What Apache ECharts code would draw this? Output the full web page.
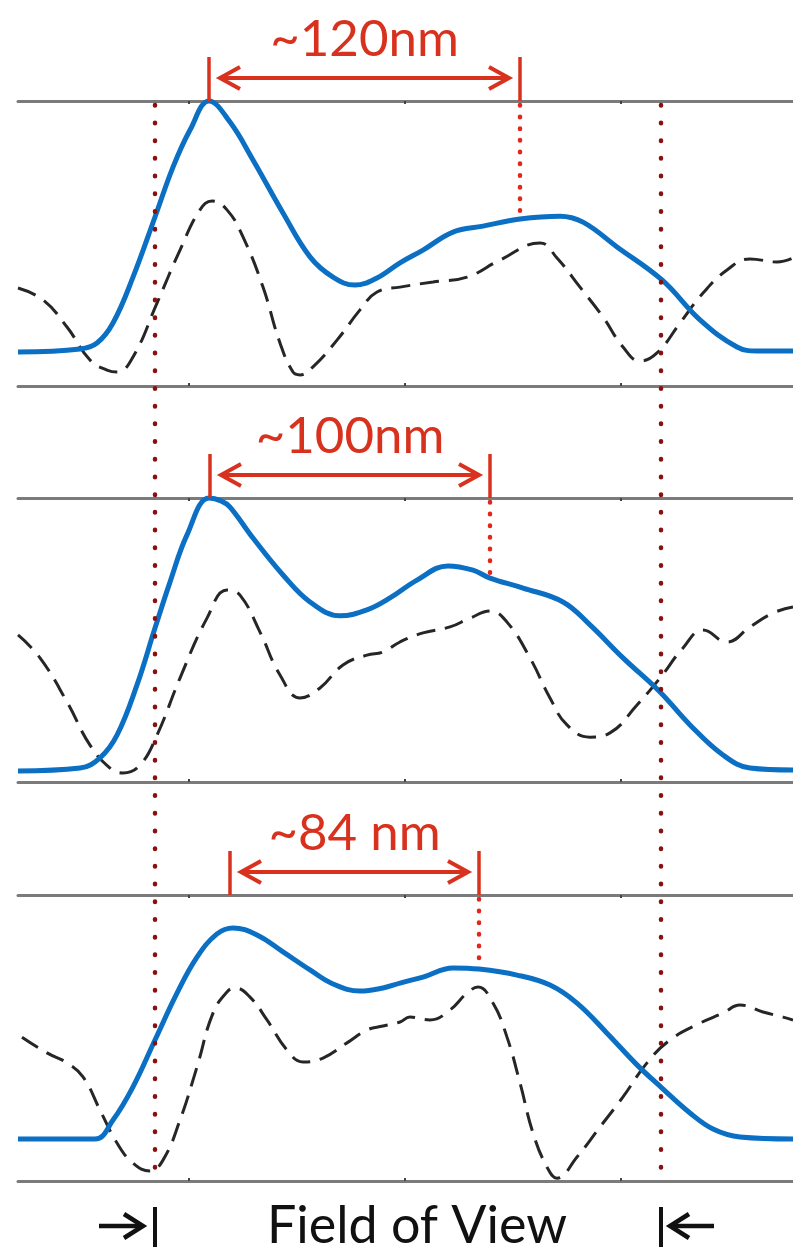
<!DOCTYPE html>
<html>
<head>
<meta charset="utf-8">
<script src="https://cdn.jsdelivr.net/npm/echarts@6/dist/echarts.min.js"></script>
<style>
  html, body { margin: 0; padding: 0; background: #ffffff; }
  #chart { width: 793px; height: 1252px; }
</style>
</head>
<body>
<div id="chart"></div>
<script>
// Scan position (0 = left end of every trace) and intensity normalised to the upper rule.
const tickPositions = [171, 387, 603];
const fieldOfView = [137, 643];

// Upper panel
const solidA = [[0,0.119],[62,0.130],[79,0.151],[95,0.221],[115,0.382],[137,0.593],[155,0.768],[172,0.898],[191,1.0],[212,0.926],[235,0.793],[265,0.607],[292,0.453],[315,0.382],[337,0.354],[359,0.379],[382,0.432],[405,0.477],[435,0.540],[465,0.561],[502,0.586],[542,0.596],[565,0.575],[599,0.488],[644,0.372],[682,0.232],[719,0.137],[739,0.123],[775,0.123]];
const dashedA = [[0,0.344],[25,0.302],[49,0.207],[72,0.091],[89,0.056],[99,0.049],[115,0.102],[139,0.291],[162,0.477],[182,0.618],[194,0.649],[209,0.618],[225,0.523],[245,0.347],[262,0.151],[275,0.049],[282,0.039],[295,0.067],[319,0.161],[342,0.267],[359,0.330],[382,0.347],[415,0.365],[449,0.382],[482,0.442],[522,0.502],[539,0.449],[562,0.347],[585,0.242],[605,0.137],[622,0.088],[639,0.116],[662,0.221],[685,0.326],[709,0.407],[732,0.446],[759,0.435],[775,0.449]];

// Middle panel
const solidB = [[0,0.039],[62,0.049],[82,0.085],[99,0.165],[119,0.342],[137,0.542],[152,0.704],[169,0.870],[191,1.0],[203,0.99],[212,0.968],[235,0.859],[265,0.729],[292,0.634],[322,0.585],[349,0.606],[372,0.648],[399,0.711],[430,0.761],[455,0.746],[472,0.718],[505,0.683],[545,0.634],[572,0.553],[605,0.437],[642,0.317],[672,0.201],[705,0.095],[732,0.049],[775,0.042]];
const dashedB = [[0,0.518],[22,0.437],[49,0.282],[72,0.130],[92,0.049],[105,0.032],[122,0.060],[139,0.165],[162,0.366],[189,0.577],[209,0.676],[222,0.658],[242,0.528],[262,0.377],[282,0.296],[302,0.331],[325,0.412],[349,0.447],[365,0.458],[382,0.493],[405,0.525],[432,0.546],[452,0.577],[472,0.602],[489,0.563],[512,0.437],[532,0.296],[549,0.201],[572,0.158],[592,0.173],[619,0.271],[642,0.366],[665,0.472],[685,0.535],[709,0.493],[732,0.546],[755,0.595],[775,0.616]];

// Lower panel
const solidC = [[0,0.147],[77,0.147],[95,0.213],[115,0.329],[137,0.493],[159,0.657],[179,0.783],[199,0.864],[215,0.885],[239,0.860],[265,0.801],[292,0.738],[315,0.689],[342,0.664],[365,0.675],[382,0.692],[405,0.713],[435,0.745],[461,0.741],[499,0.720],[532,0.685],[559,0.622],[589,0.517],[619,0.406],[644,0.325],[672,0.238],[695,0.182],[722,0.154],[775,0.147]];
const dashedC = [[4,0.503],[29,0.448],[49,0.413],[65,0.364],[82,0.248],[99,0.133],[115,0.063],[132,0.035],[145,0.073],[162,0.213],[179,0.399],[195,0.587],[209,0.661],[217,0.675],[232,0.643],[249,0.563],[269,0.458],[285,0.416],[305,0.430],[329,0.483],[349,0.528],[365,0.542],[382,0.556],[392,0.573],[412,0.563],[432,0.598],[449,0.657],[460,0.678],[475,0.622],[489,0.503],[502,0.343],[515,0.168],[529,0.049],[539,0.010],[559,0.084],[582,0.189],[605,0.294],[629,0.413],[652,0.493],[682,0.552],[705,0.587],[722,0.615],[745,0.591],[765,0.573],[775,0.563]];

// Peak-to-peak spacing markers
const spanStarts = [191, 192, 212];
const spanEnds = [502, 472, 461];
const spanLabels = ['~120nm', '~100nm', '~84 nm'];

const solids = [solidA, solidB, solidC];
const dashes = [dashedA, dashedB, dashedC];

const RED = '#d8321e';
const DOT_RED = '#e3261b';
const MAROON = '#8a0f0f';
const BLUE = '#0b6fc4';
const RULE = '#7b7b7b';
const FONT = 'Lato, "Open Sans", sans-serif';

const panels = [
  { top: 101, height: 285 },
  { top: 498, height: 284 },
  { top: 895, height: 286 }
];

function valueAt(curve, x) {
  for (let i = 0; i < curve.length - 1; i++) {
    const a = curve[i], b = curve[i + 1];
    if (x >= a[0] && x <= b[0]) {
      const t = (x - a[0]) / (b[0] - a[0] || 1);
      return a[1] + t * (b[1] - a[1]);
    }
  }
  return curve[curve.length - 1][1];
}

function spanRenderer(curve, label) {
  return function (params, api) {
    const x0 = api.value(0), x1 = api.value(1);
    const p0 = api.coord([x0, 1]);
    const p1 = api.coord([x1, 1]);
    const foot = api.coord([x1, valueAt(curve, x1)]);
    const barH = 44, ay = p0[1] - 23, gap = 11, head = 20, half = 11;
    const lx = p0[0] + gap, rx = p1[0] - gap;
    const solid = { stroke: RED, lineWidth: 4, fill: null, lineCap: 'butt', lineJoin: 'miter' };
    return {
      type: 'group',
      children: [
        { type: 'line', shape: { x1: p0[0], y1: p0[1] - barH, x2: p0[0], y2: p0[1] }, style: { stroke: RED, lineWidth: 3.5 } },
        { type: 'line', shape: { x1: p1[0], y1: p1[1] - barH, x2: p1[0], y2: p1[1] }, style: { stroke: RED, lineWidth: 3.5 } },
        { type: 'line', shape: { x1: lx + 2, y1: ay, x2: rx - 2, y2: ay }, style: solid },
        { type: 'polyline', shape: { points: [[lx + head, ay - half], [lx, ay], [lx + head, ay + half]] }, style: solid },
        { type: 'polyline', shape: { points: [[rx - head, ay - half], [rx, ay], [rx - head, ay + half]] }, style: solid },
        { type: 'line', shape: { x1: p1[0], y1: p1[1] + 4, x2: foot[0], y2: foot[1] },
          style: { stroke: DOT_RED, lineWidth: 4.5, lineDash: [0.5, 11.2], lineCap: 'round' } },
        { type: 'text', style: { text: label, x: (p0[0] + p1[0]) / 2, y: p0[1] - 61,
          align: 'center', verticalAlign: 'middle', fill: RED, font: 'normal 51px ' + FONT } }
      ]
    };
  };
}

function fovRenderer(params, api) {
  const left = api.coord([api.value(0), 0]);
  const right = api.coord([api.value(1), 0]);
  const topL = api.coord([api.value(0), 1]);
  const topR = api.coord([api.value(1), 1]);
  const b = left[1];
  const y0 = b + 24, y1 = b + 64, my = b + 43;
  const ink = { stroke: '#111', lineWidth: 4.5, fill: null };
  const dots = { stroke: MAROON, lineWidth: 4.5, lineDash: [0.5, 17.2], lineCap: 'round' };
  return {
    type: 'group',
    children: [
      { type: 'line', shape: { x1: topL[0], y1: topL[1] + 4, x2: left[0], y2: left[1] }, style: dots },
      { type: 'line', shape: { x1: topR[0], y1: topR[1] + 4, x2: right[0], y2: right[1] }, style: dots },
      { type: 'line', shape: { x1: left[0], y1: y0, x2: left[0], y2: y1 }, style: { stroke: '#111', lineWidth: 4 } },
      { type: 'line', shape: { x1: right[0], y1: y0, x2: right[0], y2: y1 }, style: { stroke: '#111', lineWidth: 4 } },
      { type: 'line', shape: { x1: left[0] - 56, y1: my, x2: left[0] - 14, y2: my }, style: ink },
      { type: 'polyline', shape: { points: [[left[0] - 31, my - 12], [left[0] - 12, my], [left[0] - 31, my + 12]] }, style: ink },
      { type: 'line', shape: { x1: right[0] + 53, y1: my, x2: right[0] + 11, y2: my }, style: ink },
      { type: 'polyline', shape: { points: [[right[0] + 28, my - 12], [right[0] + 9, my], [right[0] + 28, my + 12]] }, style: ink },
      { type: 'text', style: { text: 'Field of View', x: (left[0] + right[0]) / 2 + 9, y: my,
        align: 'center', verticalAlign: 'middle', fill: '#111', font: 'normal 52px ' + FONT } }
    ]
  };
}

const grid = [], xAxis = [], yAxis = [], series = [];

function ruleAxis(gi, position) {
  return {
    type: 'value', gridIndex: gi, position: position, min: 0, max: 775,
    axisLine: { show: true, lineStyle: { color: RULE, width: 3 } },
    axisTick: { show: true, inside: true, length: 3, customValues: tickPositions, lineStyle: { color: '#444', width: 2 } },
    axisLabel: { show: false }, splitLine: { show: false }
  };
}

panels.forEach((p, i) => {
  grid.push({ left: 18, right: 0, top: p.top, height: p.height, containLabel: false, outerBoundsMode: 'none' });
  xAxis.push(ruleAxis(i, 'bottom'));
  xAxis.push(ruleAxis(i, 'top'));
  yAxis.push({ type: 'value', gridIndex: i, min: 0, max: 1, show: false });
  series.push({
    type: 'line', xAxisIndex: 2 * i, yAxisIndex: i, data: dashes[i], smooth: 0.45,
    showSymbol: false, z: 2, lineStyle: { color: '#262626', width: 3, type: [19, 10] }, clip: false
  });
  series.push({
    type: 'line', xAxisIndex: 2 * i, yAxisIndex: i, data: solids[i], smooth: 0.4,
    showSymbol: false, z: 3, lineStyle: { color: BLUE, width: 5 }, clip: false
  });
  series.push({
    type: 'custom', xAxisIndex: 2 * i, yAxisIndex: i, z: 6, silent: true,
    data: [[spanStarts[i], spanEnds[i]]], renderItem: spanRenderer(solids[i], spanLabels[i])
  });
});

// Full-height overlay holding the field-of-view limits
grid.push({ left: 18, right: 0, top: 101, bottom: 69, containLabel: false, outerBoundsMode: 'none' });
xAxis.push({ type: 'value', gridIndex: 3, min: 0, max: 775, show: false });
yAxis.push({ type: 'value', gridIndex: 3, min: 0, max: 1, show: false });
series.push({
  type: 'custom', xAxisIndex: 6, yAxisIndex: 3, z: 5, silent: true,
  data: [fieldOfView], renderItem: fovRenderer
});

const chart = echarts.init(document.getElementById('chart'), null, { renderer: 'canvas' });
chart.setOption({
  animation: false,
  backgroundColor: '#ffffff',
  grid: grid, xAxis: xAxis, yAxis: yAxis, series: series
});
</script>
</body>
</html>
